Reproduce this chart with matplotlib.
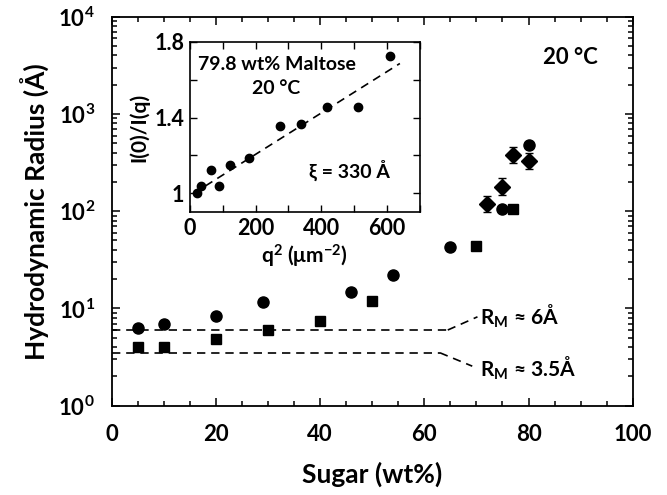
import numpy as np
import matplotlib
matplotlib.use("Agg")
import matplotlib.pyplot as plt
from matplotlib.ticker import MultipleLocator, FixedLocator, FixedFormatter, LogLocator, NullFormatter

plt.rcParams['font.family'] = ['Lato', 'DejaVu Sans']
plt.rcParams['font.weight'] = 'bold'
plt.rcParams['mathtext.fontset'] = 'custom'
plt.rcParams['mathtext.rm'] = 'Lato:bold'
plt.rcParams['mathtext.it'] = 'Lato:bold'
plt.rcParams['mathtext.bf'] = 'Lato:bold'
plt.rcParams['mathtext.default'] = 'rm'

# Hydrodynamic radius vs sugar concentration (20 °C)
circle_wt = [5, 10, 20, 29, 46, 54, 65, 75, 80]
circle_rh = [6.25, 7.0, 8.4, 11.6, 14.9, 21.9, 42.5, 105, 483]

square_wt = [5, 10, 20, 30, 40, 50, 70, 77]
square_rh = [4.04, 3.98, 4.89, 6.0, 7.43, 12.0, 44.2, 106]

diamond_wt = [72, 75, 77, 80]
diamond_rh = [118.6, 178.6, 378, 328]
diamond_err_factor = [1.22, 1.22, 1.22, 1.2]

# Monomer radii
rm_values = [6.0, 3.5]
rm_labels = ["R$_{\\mathrm{M}}$ ≈ 6Å", "R$_{\\mathrm{M}}$ ≈ 3.5Å"]

# Inset: I(0)/I(q) vs q^2 for 79.8 wt% maltose
q2 = [20, 32, 64, 88, 122, 180, 274, 338, 418, 511, 609]
ratio = [1.004, 1.039, 1.122, 1.039, 1.148, 1.187, 1.356, 1.368, 1.458, 1.453, 1.722]
xi_angstrom = 330
fit_intercept = 0.988

BOLD = dict(fontweight='bold')

fig = plt.figure(figsize=(6.67, 4.95), dpi=100)
ax = fig.add_axes([0.1675, 0.1804, 0.7811, 0.7859])

ax.set_yscale('log')
ax.set_xlim(0, 100)
ax.set_ylim(1, 1e4)

ax.plot(circle_wt, circle_rh, 'o', color='black', ms=8, zorder=3)
ax.plot(square_wt, square_rh, 's', color='black', ms=7.5, zorder=3)
lo = [v - v / f for v, f in zip(diamond_rh, diamond_err_factor)]
hi = [v * f - v for v, f in zip(diamond_rh, diamond_err_factor)]
ax.errorbar(diamond_wt, diamond_rh, yerr=[lo, hi], fmt='D', color='black',
            ms=8, elinewidth=1.0, capsize=3, capthick=1.0, zorder=3)

# Monomer-radius guide lines with leaders to labels
dash = (0, (5, 3.5))
ax.plot([0, 64.5], [rm_values[0]] * 2, color='black', lw=1.2, ls=dash)
ax.plot([64.5, 70.2], [rm_values[0], 8.2], color='black', lw=1.2, ls=dash)
ax.plot([0, 63.0], [rm_values[1]] * 2, color='black', lw=1.2, ls=dash)
ax.plot([63.0, 69.2], [rm_values[1], 2.55], color='black', lw=1.2, ls=dash)
ax.text(70.7, 8.3, rm_labels[0], fontsize=15, va='center', ha='left', **BOLD)
ax.text(70.7, 2.45, rm_labels[1], fontsize=15, va='center', ha='left', **BOLD)

ax.text(0.88, 0.894, "20 °C", transform=ax.transAxes, fontsize=16,
        ha='center', va='center', **BOLD)

ax.xaxis.set_major_locator(MultipleLocator(20))
ax.xaxis.set_minor_locator(MultipleLocator(5))
ax.yaxis.set_major_locator(FixedLocator([1, 10, 100, 1000, 10000]))
ax.yaxis.set_major_formatter(FixedFormatter(["$10^{0}$", "$10^{1}$", "$10^{2}$", "$10^{3}$", "$10^{4}$"]))
ax.yaxis.set_minor_locator(LogLocator(base=10, subs=np.arange(2, 10), numticks=10))
ax.yaxis.set_minor_formatter(NullFormatter())

ax.tick_params(which='both', direction='in', top=True, right=True, width=1.1)
ax.tick_params(which='major', length=6, labelsize=16)
ax.tick_params(axis='x', which='major', pad=13)
ax.tick_params(axis='y', which='major', pad=12)
ax.tick_params(which='minor', length=3.5)
for lab in ax.get_xticklabels() + ax.get_yticklabels():
    lab.set_fontweight('bold')
for s in ax.spines.values():
    s.set_linewidth(1.3)

ax.set_xlabel("Sugar (wt%)", fontsize=19, labelpad=12, **BOLD)
ax.set_ylabel("Hydrodynamic Radius (Å)", fontsize=19, labelpad=6, **BOLD)

# Inset
ins = fig.add_axes([0.2849, 0.5711, 0.3441, 0.3447])
ins.set_xlim(0, 700)
ins.set_ylim(0.9, 1.8)
ins.plot(q2, ratio, 'o', color='black', ms=6, zorder=3)
slope = (xi_angstrom * 1e-4) ** 2
qq = np.array([10, 640])
ins.plot(qq, fit_intercept + slope * qq, color='black', lw=1.2, ls=(0, (5, 3.5)))

ins.xaxis.set_major_locator(MultipleLocator(200))
ins.xaxis.set_minor_locator(MultipleLocator(100))
ins.yaxis.set_major_locator(FixedLocator([1.0, 1.4, 1.8]))
ins.yaxis.set_major_formatter(FixedFormatter(["1", "1.4", "1.8"]))
ins.yaxis.set_minor_locator(FixedLocator([1.2, 1.6]))
ins.tick_params(which='both', direction='in', top=True, right=True, width=1.0)
ins.tick_params(which='major', length=5, labelsize=15.5, pad=4)
ins.tick_params(which='minor', length=5)
for lab in ins.get_xticklabels() + ins.get_yticklabels():
    lab.set_fontweight('bold')
for s in ins.spines.values():
    s.set_linewidth(1.2)
ins.set_xlabel("q$^{2}$ (μm$^{-2}$)", fontsize=15, labelpad=3, **BOLD)
ins.set_ylabel("I(0)/I(q)", fontsize=15, labelpad=4, **BOLD)

ins.text(264, 1.678, "79.8 wt% Maltose", fontsize=14, ha='center', va='center', **BOLD)
ins.text(264, 1.555, "20 °C", fontsize=14, ha='center', va='center', **BOLD)
ins.text(485, 1.123, "ξ = 330 Å", fontsize=14, ha='center', va='center', **BOLD)

fig.savefig("out.png", dpi=100)
